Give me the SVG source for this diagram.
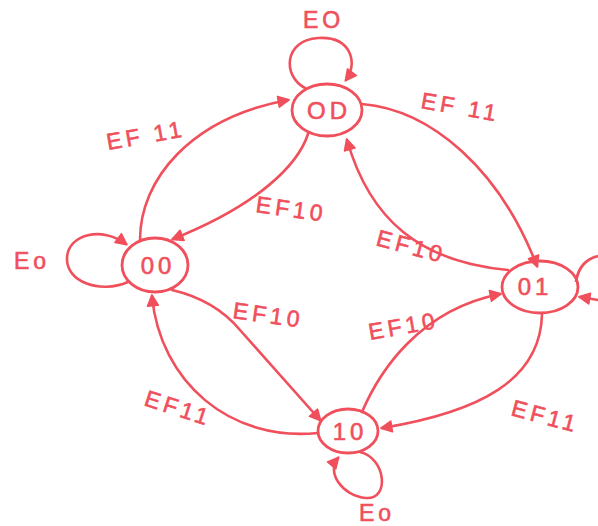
<svg xmlns="http://www.w3.org/2000/svg" width="598" height="526" viewBox="0 0 598 526">
<defs>
<marker id="ah" viewBox="0 0 12 12" refX="10" refY="6" markerWidth="13" markerHeight="13" markerUnits="userSpaceOnUse" orient="auto">
<path d="M1,1 L11,6 L1,11 Z" fill="#f04f5c" stroke="#f04f5c" stroke-width="1.5" stroke-linejoin="round"/>
</marker>
<style>
.n{fill:none;stroke:#f04f5c;stroke-width:2.8}
.e{fill:none;stroke:#f04f5c;stroke-width:2.6;stroke-linecap:round;marker-end:url(#ah)}
.t{fill:#f04f5c;stroke:#f04f5c;stroke-width:0.6;font-family:"Liberation Sans",Arial,sans-serif;font-size:23px;letter-spacing:4px}
.s{fill:#f04f5c;stroke:#f04f5c;stroke-width:0.6;font-family:"Liberation Sans",Arial,sans-serif;font-size:24px;letter-spacing:4px;text-anchor:middle}
</style>
</defs>
<rect width="598" height="526" fill="#ffffff"/>
<g id="edges">
<path class="e" d="M305 88 C282 76 284 40 318 38 C352 36 358 64 346 80"/>
<path class="e" d="M128 282 C100 294 66 282 67 258 C68 234 102 226 126 244"/>
<path class="n" d="M576 282 C578 266 588 258 598 256"/>
<path class="e" d="M598 300 L580 297"/>
<path class="e" d="M360 452 C386 458 390 500 366 498 C342 496 326 472 338 458"/>
<path class="e" d="M140 240 C140 180 190 118 288 100"/>
<path class="e" d="M308 134 C298 165 258 205 173 239"/>
<path class="e" d="M362 104 C432 110 500 170 537 266"/>
<path class="e" d="M508 270 C420 262 370 220 347 140"/>
<path class="e" d="M172 290 Q215 300 240 330 L320 420"/>
<path class="e" d="M362 412 C380 370 420 310 500 294"/>
<path class="e" d="M542 315 C540 380 480 412 382 428"/>
<path class="e" d="M318 433 C230 442 160 382 152 296"/>
</g>
<g id="n_top"><ellipse class="n" cx="327" cy="110" rx="35" ry="26"/><text class="s" x="329" y="119">OD</text></g>
<g id="n_left"><ellipse class="n" cx="155" cy="265" rx="33" ry="27"/><text class="s" x="158" y="274">00</text></g>
<g id="n_right"><ellipse class="n" cx="540" cy="287" rx="38" ry="26"/><text class="s" x="535" y="295">01</text></g>
<g id="n_bottom"><ellipse class="n" cx="348" cy="431" rx="30" ry="22"/><text class="s" x="350" y="440">10</text></g>
<g id="labels">
<text class="t" x="303" y="28">EO</text>
<text class="t" x="14" y="269">Eo</text>
<text class="t" transform="translate(108,150) rotate(-10)">EF 11</text>
<text class="t" transform="translate(255,212) rotate(8)">EF10</text>
<text class="t" transform="translate(420,108) rotate(10)">EF 11</text>
<text class="t" transform="translate(375,245) rotate(15)">EF10</text>
<text class="t" transform="translate(232,318) rotate(8)">EF10</text>
<text class="t" transform="translate(370,340) rotate(-10)">EF10</text>
<text class="t" transform="translate(143,405) rotate(18)">EF11</text>
<text class="t" transform="translate(510,415) rotate(15)">EF11</text>
<text class="t" x="359" y="521">Eo</text>
</g>
</svg>
